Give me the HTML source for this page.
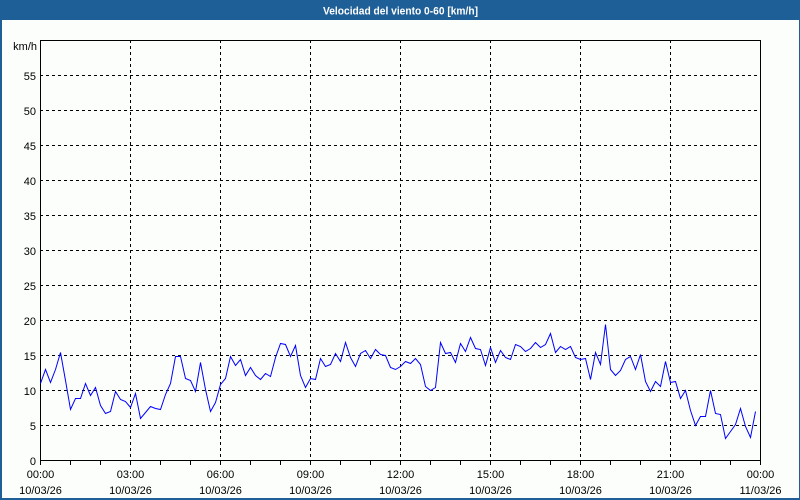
<!DOCTYPE html>
<html><head><meta charset="utf-8"><style>
html,body{margin:0;padding:0;width:800px;height:500px;overflow:hidden;background:#fcfefc}
svg{display:block}
text{font-family:"Liberation Sans",Arial,sans-serif;font-size:11px;fill:#000}
</style></head><body>
<svg width="800" height="500" viewBox="0 0 800 500" xmlns="http://www.w3.org/2000/svg">
<rect x="0" y="0" width="800" height="500" fill="#fcfefc"/>
<rect x="0" y="0" width="800" height="20" fill="#1f5f97"/>
<rect x="0" y="0" width="2" height="500" fill="#1f5f97"/>
<rect x="799" y="0" width="1" height="500" fill="#1f5f97"/>
<rect x="0" y="498" width="800" height="2" fill="#1f5f97"/>
<text x="400.5" y="14.5" text-anchor="middle" style="font-weight:bold;fill:#fff;font-size:11px" textLength="155" lengthAdjust="spacingAndGlyphs">Velocidad del viento 0-60 [km/h]</text>

<g stroke="#000" stroke-width="1" stroke-dasharray="3,3" shape-rendering="crispEdges" fill="none">
<path d="M40 75.5H760M40 110.5H760M40 145.5H760M40 180.5H760M40 215.5H760M40 250.5H760M40 285.5H760M40 320.5H760M40 355.5H760M40 390.5H760M40 425.5H760"/>
<path d="M130.5 40V460M220.5 40V460M310.5 40V460M400.5 40V460M490.5 40V460M580.5 40V460M670.5 40V460"/>
</g>
<g stroke="#000" stroke-width="1" shape-rendering="crispEdges" fill="none">
<rect x="40.5" y="40.5" width="720" height="420"/>
<path d="M40.5 460V465M70.5 460V465M100.5 460V465M130.5 460V465M160.5 460V465M190.5 460V465M220.5 460V465M250.5 460V465M280.5 460V465M310.5 460V465M340.5 460V465M370.5 460V465M400.5 460V465M430.5 460V465M460.5 460V465M490.5 460V465M520.5 460V465M550.5 460V465M580.5 460V465M610.5 460V465M640.5 460V465M670.5 460V465M700.5 460V465M730.5 460V465M760.5 460V465"/>
</g>

<polyline fill="none" stroke="#0000ff" stroke-width="1" points="40.5,383.5 45.5,369.5 50.5,382.5 55.5,369.5 60.5,352.5 65.5,380.5 70.5,409.5 75.5,398.5 80.5,398.5 85.5,383.5 90.5,395.5 95.5,387.5 100.5,405.5 105.5,413.5 110.5,411.5 115.5,391.5 120.5,399.5 125.5,401.5 130.5,407.5 135.5,393.5 140.5,418.5 145.5,412.5 150.5,406.5 155.5,408.5 160.5,409.5 165.5,394.5 170.5,383.5 175.5,356.5 180.5,356.5 185.5,378.5 190.5,380.5 195.5,391.5 200.5,362.5 205.5,389.5 210.5,411.5 215.5,402.5 220.5,384.5 225.5,378.5 230.5,356.5 235.5,365.5 240.5,359.5 245.5,375.5 250.5,367.5 255.5,375.5 260.5,379.5 265.5,373.5 270.5,376.5 275.5,357.5 280.5,343.5 285.5,344.5 290.5,356.5 295.5,345.5 300.5,375.5 305.5,387.5 310.5,378.5 315.5,379.5 320.5,358.5 325.5,366.5 330.5,364.5 335.5,353.5 340.5,361.5 345.5,342.5 350.5,357.5 355.5,366.5 360.5,353.5 365.5,350.5 370.5,358.5 375.5,349.5 380.5,354.5 385.5,355.5 390.5,367.5 395.5,369.5 400.5,366.5 405.5,361.5 410.5,363.5 415.5,358.5 420.5,364.5 425.5,386.5 430.5,390.5 435.5,387.5 440.5,342.5 445.5,353.5 450.5,352.5 455.5,362.5 460.5,343.5 465.5,351.5 470.5,337.5 475.5,348.5 480.5,349.5 485.5,365.5 490.5,347.5 495.5,362.5 500.5,350.5 505.5,357.5 510.5,359.5 515.5,344.5 520.5,346.5 525.5,351.5 530.5,348.5 535.5,342.5 540.5,347.5 545.5,344.5 550.5,333.5 555.5,352.5 560.5,346.5 565.5,349.5 570.5,346.5 575.5,357.5 580.5,359.5 585.5,358.5 590.5,379.5 595.5,352.5 600.5,364.5 605.5,324.5 610.5,369.5 615.5,375.5 620.5,370.5 625.5,359.5 630.5,356.5 635.5,369.5 640.5,354.5 645.5,381.5 650.5,391.5 655.5,381.5 660.5,386.5 665.5,361.5 670.5,382.5 675.5,381.5 680.5,398.5 685.5,390.5 690.5,410.5 695.5,425.5 700.5,416.5 705.5,416.5 710.5,390.5 715.5,413.5 720.5,414.5 725.5,438.5 730.5,431.5 735.5,424.5 740.5,408.5 745.5,426.5 750.5,437.5 755.5,411.5"/>

<g text-anchor="end">
<text x="37" y="50">km/h</text>
<text x="36" y="80">55</text>
<text x="36" y="115">50</text>
<text x="36" y="150">45</text>
<text x="36" y="185">40</text>
<text x="36" y="220">35</text>
<text x="36" y="255">30</text>
<text x="36" y="290">25</text>
<text x="36" y="325">20</text>
<text x="36" y="360">15</text>
<text x="36" y="395">10</text>
<text x="36" y="430">5</text>
<text x="36" y="465">0</text>
</g>
<g text-anchor="middle">
<text x="40.5" y="478">00:00</text><text x="40.5" y="494">10/03/26</text>
<text x="130.5" y="478">03:00</text><text x="130.5" y="494">10/03/26</text>
<text x="220.5" y="478">06:00</text><text x="220.5" y="494">10/03/26</text>
<text x="310.5" y="478">09:00</text><text x="310.5" y="494">10/03/26</text>
<text x="400.5" y="478">12:00</text><text x="400.5" y="494">10/03/26</text>
<text x="490.5" y="478">15:00</text><text x="490.5" y="494">10/03/26</text>
<text x="580.5" y="478">18:00</text><text x="580.5" y="494">10/03/26</text>
<text x="670.5" y="478">21:00</text><text x="670.5" y="494">10/03/26</text>
<text x="760.5" y="478">00:00</text><text x="760.5" y="494">11/03/26</text>
</g>
</svg>
</body></html>
